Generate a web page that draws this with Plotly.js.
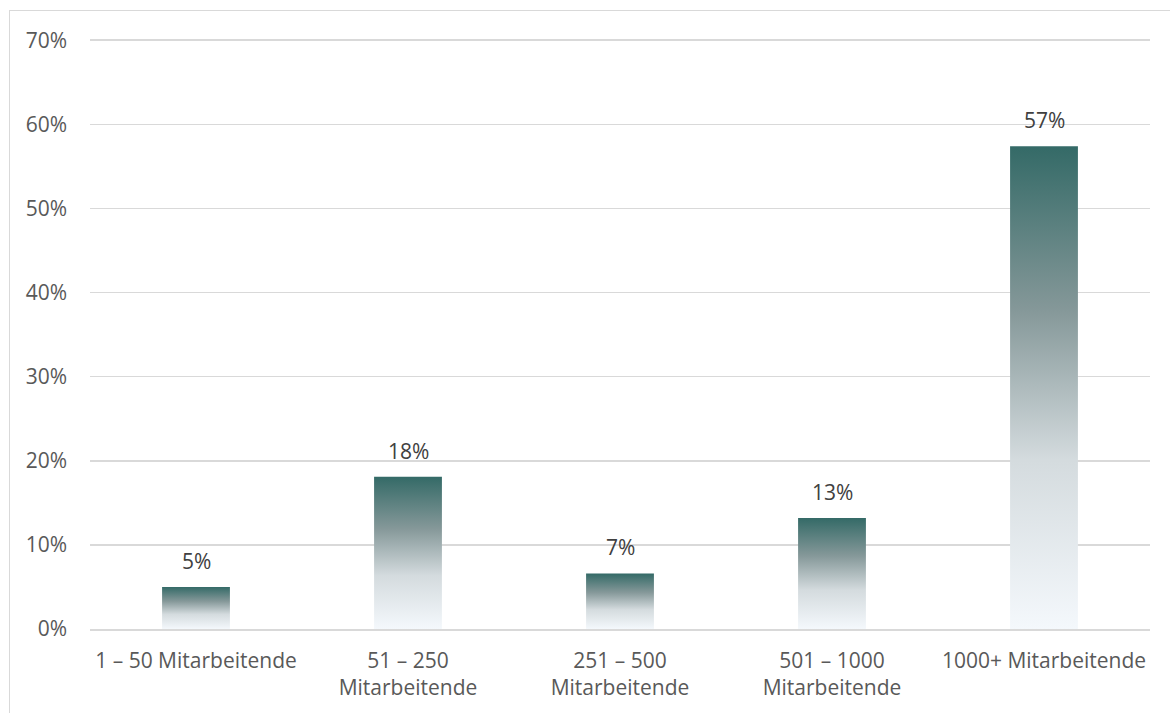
<!DOCTYPE html>
<html>
<head>
<meta charset="utf-8">
<script src="https://cdn.plot.ly/plotly-3.0.1.min.js"></script>
<style>
html,body{margin:0;padding:0;background:#fff;overflow:hidden;}
#chart{width:1170px;height:713px;position:absolute;left:0;top:0;}
#frame{position:absolute;left:9px;top:10px;width:1200px;height:800px;border:1.5px solid #d9d9d9;pointer-events:none;}
</style>
</head>
<body>
<div id="chart"></div>
<div id="frame"></div>
<script>
const categories = ["1 – 50 Mitarbeitende", "51 – 250<br>Mitarbeitende", "251 – 500<br>Mitarbeitende", "501 – 1000<br>Mitarbeitende", "1000+ Mitarbeitende"];
const values = [5.0, 18.1, 6.6, 13.2, 57.4];
const valueLabels = ["5%", "18%", "7%", "13%", "57%"];
const yTickVals = [0, 10, 20, 30, 40, 50, 60, 70];
const yTickText = ["0%", "10%", "20%", "30%", "40%", "50%", "60%", "70%"];

const font = "Open Sans, Noto Sans, sans-serif";
const fsize = 21;

const trace = {
  type: "bar",
  x: categories,
  y: values,
  marker: {color: "#5a8280", line: {width: 0}},
  hoverinfo: "skip"
};

const annotations = categories.map(function(c, i){
  return {
    x: c, y: values[i], xref: "x", yref: "y",
    text: valueLabels[i], showarrow: false,
    yanchor: "bottom", yshift: 10,
    font: {family: font, size: fsize, color: "#404040"}
  };
});

const layout = {
  width: 1170,
  height: 713,
  margin: {l: 90, r: 20, t: 36, b: 84},
  paper_bgcolor: "#ffffff",
  plot_bgcolor: "#ffffff",
  bargap: 0.68,
  showlegend: false,
  font: {family: font, size: fsize, color: "#595959"},
  annotations: annotations,
  xaxis: {
    type: "category",
    showgrid: false,
    showline: true,
    linecolor: "#d9d9d9",
    linewidth: 1.5,
    ticks: "",
    ticklabelstandoff: 12,
    tickfont: {family: font, size: fsize, color: "#595959"},
    fixedrange: true
  },
  yaxis: {
    range: [0, 70.5],
    tickvals: yTickVals,
    ticktext: yTickText,
    showgrid: true,
    gridcolor: "#d9d9d9",
    gridwidth: 1.5,
    zeroline: false,
    showline: false,
    ticks: "",
    ticklabelstandoff: 22,
    tickfont: {family: font, size: fsize, color: "#595959"},
    fixedrange: true
  }
};

Plotly.newPlot("chart", [trace], layout, {displayModeBar: false, staticPlot: true}).then(function(gd){
  const svgNS = "http://www.w3.org/2000/svg";
  const svg = gd.querySelector(".main-svg");
  let defs = svg.querySelector("defs");
  if (!defs) { defs = document.createElementNS(svgNS, "defs"); svg.insertBefore(defs, svg.firstChild); }
  const grad = document.createElementNS(svgNS, "linearGradient");
  grad.setAttribute("id", "barGrad");
  grad.setAttribute("x1", "0"); grad.setAttribute("y1", "0");
  grad.setAttribute("x2", "0"); grad.setAttribute("y2", "1");
  [["0", "#346a67"], ["0.34", "#859899"], ["0.65", "#d4dbde"], ["1", "#f4f8fc"]].forEach(function(s){
    const st = document.createElementNS(svgNS, "stop");
    st.setAttribute("offset", s[0]);
    st.setAttribute("stop-color", s[1]);
    grad.appendChild(st);
  });
  defs.appendChild(grad);
  gd.querySelectorAll(".bars .point path").forEach(function(p){
    p.style.fill = "url(#barGrad)";
  });
});
</script>
</body>
</html>
